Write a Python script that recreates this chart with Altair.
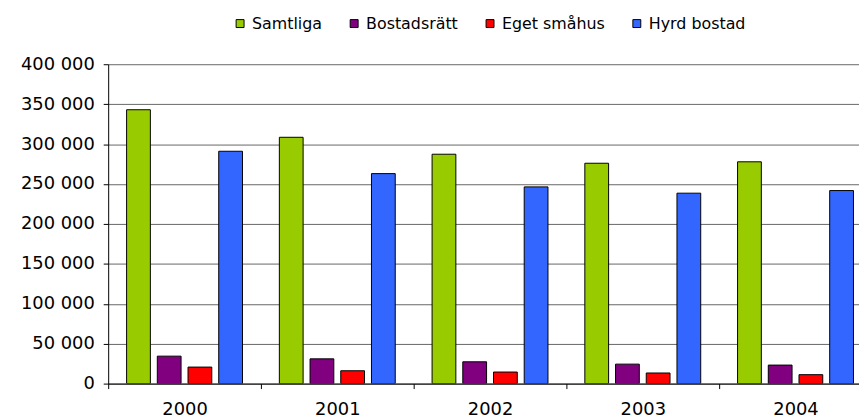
import altair as alt
import pandas as pd

years = ["2000", "2001", "2002", "2003", "2004"]
series = ["Samtliga", "Bostadsrätt", "Eget småhus", "Hyrd bostad"]
colors = ["#99CC00", "#800080", "#FF0000", "#3366FF"]

samtliga = [343000, 308500, 287300, 276000, 277800]
bostadsratt = [34400, 31000, 27300, 24400, 23200]
eget_smahus = [20700, 16100, 14500, 13300, 11200]
hyrd_bostad = [291000, 263000, 246400, 238500, 241800]

y_ticks = [0, 50000, 100000, 150000, 200000, 250000, 300000, 350000, 400000]

rows = []
for name, vals in zip(series, [samtliga, bostadsratt, eget_smahus, hyrd_bostad]):
    for yr, v in zip(years, vals):
        rows.append({"year": yr, "series": name, "value": v})
df = pd.DataFrame(rows)

FONT = "DejaVu Sans"

chart = alt.Chart(df).mark_bar(stroke="black", strokeWidth=1, clip=True).encode(
    x=alt.X(
        "year:N", sort=years,
        scale=alt.Scale(domain=years, range=[0, 770], paddingInner=0, paddingOuter=0),
        axis=alt.Axis(title=None, labelAngle=0, labelFont=FONT, labelFontSize=18,
                      labelColor="black", tickBand="extent", tickColor="black",
                      tickSize=5, domainColor="black", labelPadding=12, grid=False),
    ),
    xOffset=alt.XOffset(
        "series:N", sort=series,
        scale=alt.Scale(domain=series, paddingInner=0.226, paddingOuter=0.6),
    ),
    y=alt.Y(
        "value:Q",
        scale=alt.Scale(domain=[0, 400000], nice=False),
        axis=alt.Axis(title=None, values=y_ticks,
                      labelExpr="replace(format(datum.value, ','), ',', ' ')",
                      labelFont=FONT, labelFontSize=18, labelColor="black",
                      tickColor="black", tickSize=5, domainColor="black",
                      labelPadding=9, gridColor="#666666", gridWidth=1),
    ),
    color=alt.Color(
        "series:N", sort=series,
        scale=alt.Scale(domain=series, range=colors),
        legend=alt.Legend(title=None, orient="none", direction="horizontal",
                          legendX=125, legendY=-49,
                          symbolType="square", symbolSize=64,
                          symbolStrokeColor="black", symbolStrokeWidth=1,
                          labelFont=FONT, labelFontSize=16, labelColor="black",
                          labelOffset=4, columnPadding=24),
    ),
).properties(
    width=757, height=322,
    autosize=alt.AutoSizeParams(type="none"),
    padding={"left": 101, "top": 55, "right": 0, "bottom": 36},
    background="white",
).configure_view(stroke=None)

chart.save("out.html", embed_options={"renderer": "svg", "actions": False})
